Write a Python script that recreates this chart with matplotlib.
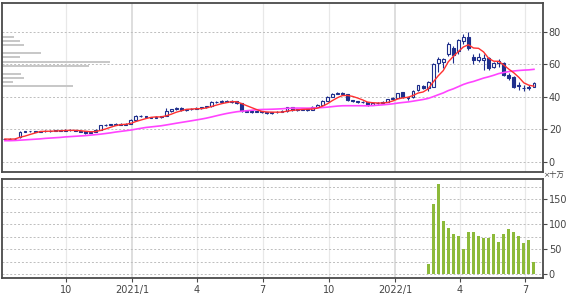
import matplotlib
matplotlib.use('Agg')
import matplotlib.pyplot as plt
import matplotlib.dates as mdates
import numpy as np
import pandas as pd

# weekly candles, Jul 2020 - Jul 2022
weeks = pd.date_range('2020-07-08', periods=106, freq='7D')

opens = [14.0, 14.1, 14.0, 15.3, 18.4, 18.8, 19.0, 18.5, 18.8, 19.2,
         19.0, 19.5, 19.3, 19.8, 19.5, 19.0, 18.8, 17.6, 18.5, 19.9,
         22.6, 23.0, 22.8, 23.4, 23.0, 23.5, 26.0, 28.3, 28.0, 27.5,
         27.2, 27.6, 28.2, 31.5, 32.3, 33.3, 32.0, 32.4, 32.6, 33.2,
         33.5, 34.2, 36.8, 37.0, 37.4, 36.9, 37.2, 36.0, 31.6, 31.0,
         30.8, 31.2, 30.6, 29.9, 30.5, 30.8, 31.3, 33.6, 32.2, 32.0,
         32.3, 32.0, 33.9, 35.1, 37.6, 40.0, 42.0, 42.5, 41.5, 37.8,
         37.2, 37.0, 36.7, 35.0, 36.0, 36.4, 36.9, 38.5, 39.5, 42.8,
         39.6, 40.0, 44.0, 46.6, 45.6, 46.0, 61.0, 61.5, 66.5, 70.0,
         68.0, 74.0, 76.5, 64.6, 62.6, 62.5, 63.6, 58.5, 60.5, 60.5,
         53.4, 52.3, 47.0, 45.4, 45.6, 46.3]
highs = [14.4, 14.5, 14.6, 18.8, 19.2, 19.3, 19.2, 19.1, 19.6, 19.5,
         19.9, 19.8, 20.2, 20.0, 19.7, 19.3, 19.0, 18.8, 20.0, 23.0,
         23.5, 23.6, 23.8, 23.7, 23.8, 26.5, 28.8, 28.9, 28.4, 27.9,
         28.0, 28.4, 33.0, 32.8, 33.9, 33.6, 32.8, 33.0, 33.5, 33.8,
         34.5, 37.3, 37.5, 38.0, 38.3, 37.8, 37.6, 36.3, 32.0, 31.8,
         31.6, 31.5, 30.9, 30.8, 31.2, 31.8, 34.0, 33.9, 32.6, 32.8,
         32.6, 34.3, 35.5, 38.0, 40.5, 42.4, 43.0, 42.9, 41.8, 38.2,
         37.6, 37.5, 37.0, 36.4, 36.8, 37.3, 38.9, 39.9, 42.6, 43.2,
         40.0, 44.2, 47.5, 47.0, 49.5, 60.5, 64.5, 64.0, 73.5, 71.0,
         75.5, 78.5, 80.0, 66.0, 67.0, 66.0, 64.5, 61.5, 63.5, 61.5,
         54.5, 52.8, 49.0, 47.5, 47.5, 48.8]
lows = [13.7, 13.8, 13.9, 15.0, 18.2, 18.5, 18.2, 18.3, 18.6, 18.7,
        18.8, 19.0, 19.1, 19.2, 18.8, 18.3, 17.3, 17.5, 18.3, 19.6,
        22.2, 22.5, 22.6, 22.8, 22.8, 23.3, 25.8, 27.6, 27.2, 26.8,
        27.0, 27.3, 28.0, 31.0, 32.0, 31.6, 31.6, 31.9, 32.3, 32.8,
        33.2, 34.0, 36.2, 36.5, 36.6, 36.3, 35.8, 30.8, 30.5, 30.3,
        30.4, 30.0, 29.5, 29.6, 30.0, 30.4, 31.0, 31.2, 31.5, 31.7,
        31.4, 31.8, 33.6, 34.9, 37.3, 39.6, 41.5, 41.4, 37.3, 36.8,
        36.5, 36.2, 34.6, 34.8, 35.6, 36.0, 36.7, 38.2, 39.3, 39.2,
        38.3, 39.5, 43.6, 45.0, 43.5, 45.8, 55.0, 58.0, 65.0, 60.5,
        66.5, 72.5, 68.5, 60.0, 61.5, 56.5, 56.5, 58.0, 58.5, 53.0,
        50.5, 45.5, 44.5, 43.8, 44.5, 45.8]
closes = [14.1, 14.0, 14.3, 18.4, 18.8, 19.0, 18.5, 18.8, 19.2, 19.0,
          19.5, 19.3, 19.8, 19.5, 19.0, 18.5, 17.6, 18.5, 19.8, 22.6,
          23.0, 22.8, 23.4, 23.0, 23.5, 26.0, 28.3, 28.0, 27.5, 27.2,
          27.6, 28.0, 31.5, 32.3, 33.3, 32.0, 32.4, 32.6, 33.2, 33.5,
          34.2, 36.8, 37.0, 37.4, 36.9, 37.2, 36.2, 31.6, 31.0, 30.8,
          31.2, 30.6, 29.9, 30.5, 30.8, 31.3, 33.6, 32.2, 32.0, 32.3,
          32.0, 33.9, 35.1, 37.6, 40.0, 42.0, 42.5, 41.9, 37.8, 37.2,
          37.0, 36.7, 35.0, 36.0, 36.4, 37.0, 38.5, 39.5, 42.2, 39.6,
          39.0, 43.8, 47.0, 45.5, 49.0, 60.0, 63.0, 63.0, 72.5, 65.6,
          75.0, 77.0, 69.7, 62.6, 64.6, 64.0, 57.5, 60.7, 62.2, 53.4,
          51.3, 46.2, 46.8, 45.2, 46.2, 48.3]

# 26-week line for the first weeks (history before the chart starts)
ma26_head = [13.1, 13.1, 13.2, 13.4, 13.6, 13.8, 14.0, 14.2, 14.5, 14.7,
             14.9, 15.1, 15.4, 15.6, 15.8, 16.0, 16.2, 16.5, 16.8, 17.1,
             17.5, 17.9, 18.4, 18.8, 19.2]

# volume (x 100,000 shares), last 22 weeks only
volumes = [20, 140, 180, 107, 92, 80, 77, 51, 84, 84, 76,
           72, 72, 80, 65, 80, 90, 84, 77, 62, 68, 25]

# price-by-volume profile
profile_prices = [76.9, 74.3, 71.6, 66.7, 64.3, 61.6, 59.1, 54.2, 51.4, 48.9, 46.7]
profile_vols = [46, 71, 87, 153, 71, 420, 338, 74, 85, 43, 276]

tick_dates = ['2020-10-01', '2021-01-01', '2021-04-01', '2021-07-01',
              '2021-10-01', '2022-01-01', '2022-04-01', '2022-07-01']
tick_labels = ['10', '2021/1', '4', '7', '10', '2022/1', '4', '7']

close_s = pd.Series(closes)
ma5 = close_s.rolling(5, min_periods=1).mean()
ma26 = close_s.rolling(26).mean()
ma26.iloc[:25] = ma26_head

navy = '#1f2f8c'
frame = '#4a4a4a'
txt = '#444444'

fig = plt.figure(figsize=(5.67, 2.98), dpi=100)
ax = fig.add_axes([0.0035, 0.4238, 0.9547, 0.5651])
axv = fig.add_axes([0.0035, 0.0661, 0.9547, 0.3322], sharex=ax)

x = mdates.date2num(weeks)
tk = mdates.date2num(pd.to_datetime(tick_dates))

for a in (ax, axv):
    for i, t in enumerate(tk):
        yearline = tick_labels[i].startswith('20')
        a.axvline(t, color='#d8d8d8' if yearline else '#e8e8e8',
                  lw=1.2 if yearline else 0.9, zorder=0)
    for s in a.spines.values():
        s.set_color(frame)
        s.set_linewidth(1.3)

for v in [0, 20, 40, 60, 80]:
    ax.axhline(v, color='#bdbdbd', lw=0.7, ls=(0, (2, 2)), zorder=0)
for v in range(0, 200, 25):
    axv.axhline(v, color='#bdbdbd', lw=0.7, ls=(0, (2, 2)), zorder=0)

# volume profile on the left
pw = np.array(profile_vols) / max(profile_vols) * 0.199
ax.barh(profile_prices, pw, height=1.3, left=0, color='#c8c8c8',
        transform=ax.get_yaxis_transform(), zorder=1)

# candles
o = np.array(opens); c = np.array(closes)
h = np.array(highs); l = np.array(lows)
ax.vlines(x, l, h, color=navy, lw=0.8, zorder=2)
up = c >= o
body_lo = np.minimum(o, c)
body_h = np.maximum(np.abs(c - o), 0.25)
ax.bar(x[up], body_h[up], bottom=body_lo[up], width=4.0,
       facecolor='white', edgecolor=navy, lw=0.8, zorder=3)
ax.bar(x[~up], body_h[~up], bottom=body_lo[~up], width=4.0,
       facecolor=navy, edgecolor=navy, lw=0.8, zorder=3)

ax.plot(x, ma26, color='#ff44ff', lw=1.2, zorder=4)
ax.plot(x, ma5, color='#ff3030', lw=1.0, zorder=4)

# volume bars
axv.bar(x[-len(volumes):], volumes, width=4.2, color='#8dba3a', zorder=2)

ax.set_ylim(-5.95, 97.4)
axv.set_ylim(-8.6, 190.2)
ax.set_xlim(mdates.date2num(pd.Timestamp('2020-07-04')),
            mdates.date2num(pd.Timestamp('2022-07-26')))

for a in (ax, axv):
    a.yaxis.tick_right()
    a.tick_params(axis='y', direction='out', length=3, width=0.8, color=frame,
                  pad=1, labelsize=7, labelcolor=txt)
ax.set_yticks([0, 20, 40, 60, 80])
axv.set_yticks([0, 50, 100, 150])

ax.tick_params(axis='x', bottom=False, labelbottom=False)
axv.set_xticks(tk)
axv.set_xticklabels(tick_labels)
axv.tick_params(axis='x', direction='out', length=3, width=0.8, color=frame,
                pad=2, labelsize=7, labelcolor=txt)

fig.text(0.959, 0.404, '×十万', fontsize=5.3, color=txt,
         family=['DejaVu Sans', 'Noto Sans CJK JP'], va='bottom', ha='left')

fig.savefig('out.png', dpi=100)
